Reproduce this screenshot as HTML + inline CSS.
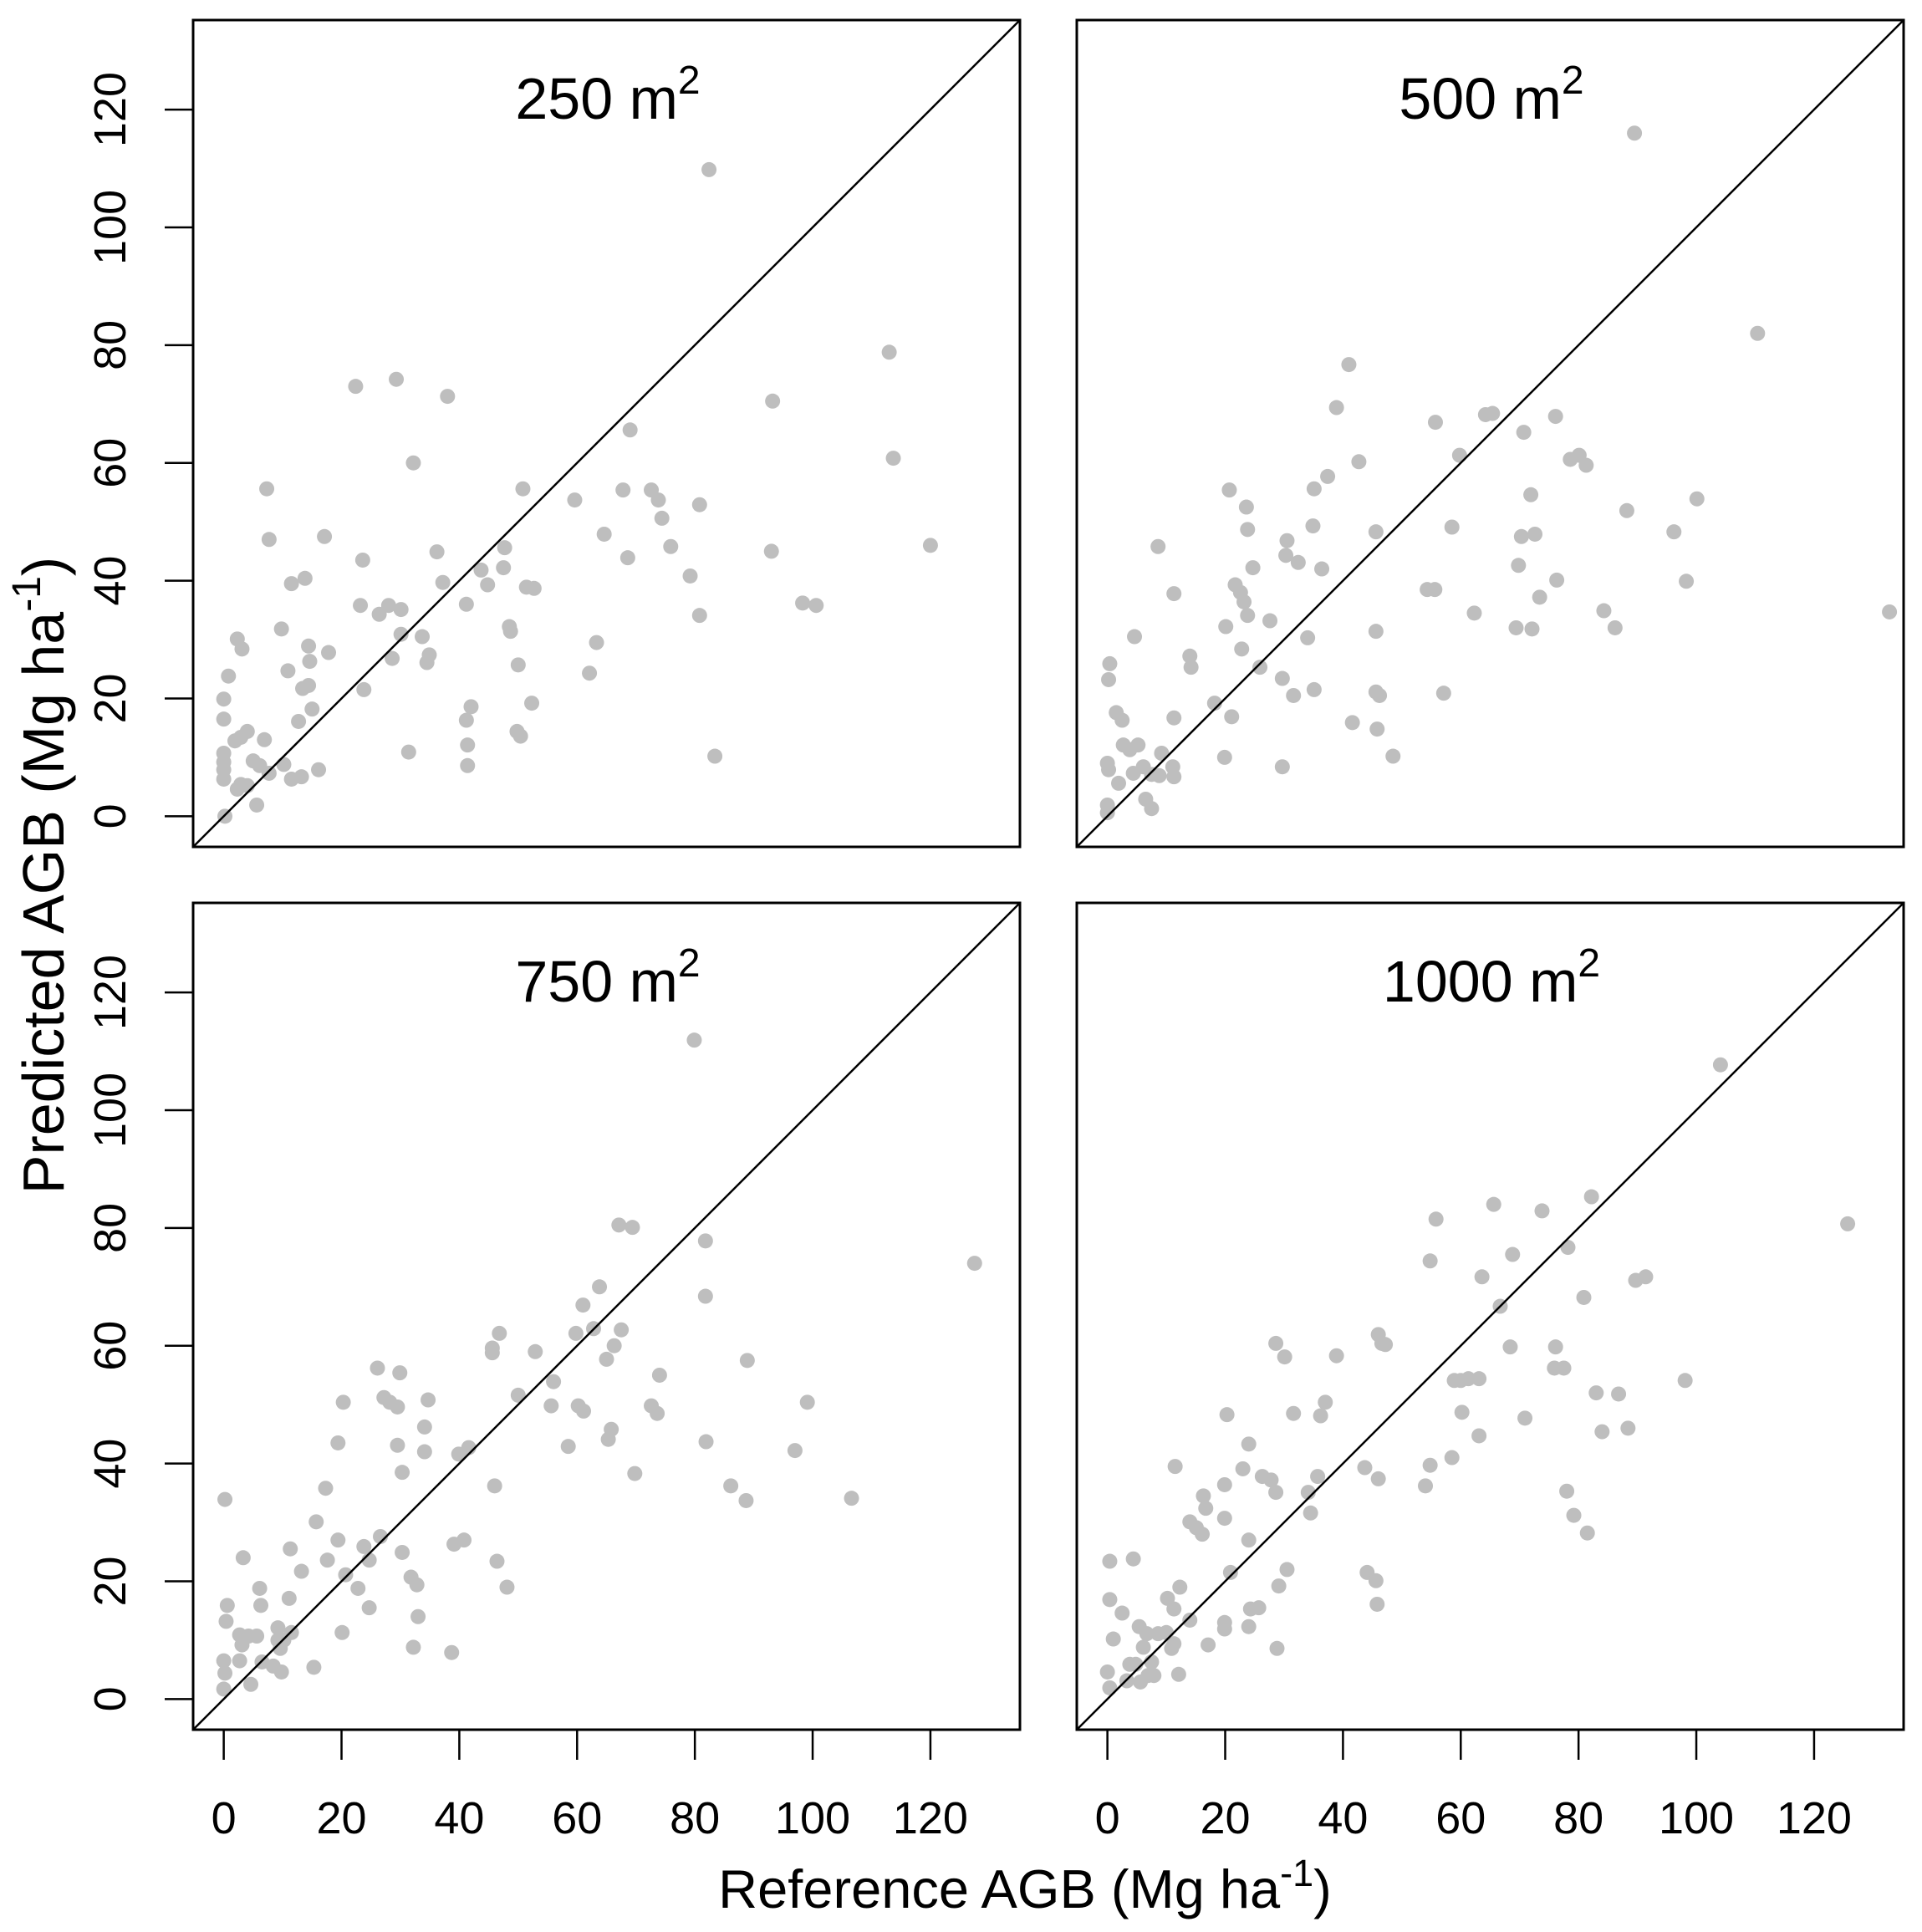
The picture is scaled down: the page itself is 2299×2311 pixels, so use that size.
<!DOCTYPE html>
<html><head><meta charset="utf-8"><style>
html,body{margin:0;padding:0;background:#fff;}
svg{display:block;font-family:"Liberation Sans",sans-serif;}
</style></head><body>
<svg id="chart" width="2299" height="2311" viewBox="0 0 2299 2311" xmlns="http://www.w3.org/2000/svg">
<text x="1226" y="2282" font-size="65" text-anchor="middle">Reference AGB  (Mg ha<tspan dy="-26" font-size="45">-1</tspan><tspan dy="26">)</tspan></text>
<text transform="translate(76,1047) rotate(-90)" font-size="70" text-anchor="middle">Predicted AGB  (Mg ha<tspan dy="-28" font-size="48">-1</tspan><tspan dy="28">)</tspan></text>
</svg>
<script>
const panelTitles = ["250", "500", "750", "1000"];
const xTicks = [0, 20, 40, 60, 80, 100, 120];
const yTicks = [0, 20, 40, 60, 80, 100, 120];
const ref250 = [82.4,113,113.7,120,93.2,93,98.3,100.6,83.4,69,67.8,72.6,73.8,74.4,75.9,79.2,80.8,80.8,68.6,64.6,59.6,63.3,62.1,47.7,47.5,43.7,44.8,48.5,48.7,51.4,52.7,50.8,50,49.8,50.4,52.3,41.2,42,41.2,41.4,41.4,38,29.3,22.4,32.2,36.2,37.2,33.7,34.9,34.5,31.4,23.6,23.2,23.8,26.4,28,30.1,30.1,28.6,7.3,7.7,17.1,17.8,13.8,11.5,9.8,10.9,14.4,14.6,14.4,13.4,15,12.7,16.1,11.5,13.2,10.2,2.3,3.1,0.8,0,0,1.9,2.9,4,6.9,7.7,5,6.1,2.9,4,2.3,0,0,0,0,5.6,0.2];
const pred250 = [109.8,78.8,60.8,46,70.5,45,36.2,35.8,10.2,65.6,55.4,55.4,53.7,50.6,45.8,40.8,52.9,34.1,43.9,47.9,53.7,29.5,24.3,45.6,42.2,41.8,39.3,32.2,31.4,38.9,38.7,55.6,25.7,14.4,13.6,19.2,36,18.6,16.3,12.1,8.6,71.3,74.2,73,60,44.9,39.7,30.5,27.4,26.1,10.9,43.5,35.8,21.5,34.3,35.8,35.1,30.9,26.8,55.6,47,47.5,27.8,40.4,39.5,31.8,24.7,28.9,26.3,22.2,21.7,18.2,16.1,7.9,6.3,6.7,8.8,30.1,28.4,23.8,19.9,16.5,12.8,13.4,14.4,13,7.3,9.4,8.6,5.4,5.2,4.6,10.7,9.2,7.9,6.3,1.9,0];
const ref500 = [89.5,110.4,132.8,100.1,96.2,98.3,88.2,84.3,86.2,78.6,80.1,81.3,76.1,76.3,73.4,72.6,71.9,70.7,70.3,69.8,69.4,72.1,62.3,64.2,65.4,59.8,58.5,55.7,57.1,54.3,55.6,48.5,45.6,45.6,45.6,46.2,45.8,41.6,42.7,41,38.9,37.4,35.1,34.9,36.4,35.1,34,32.4,31.6,30.5,30.3,29.7,29.7,27.6,25.9,24.7,23.6,23.8,23.2,23.8,22.8,21.7,22.6,20.7,21.1,20.1,19.9,18.2,14,14.2,11.3,11.3,8.6,4.6,0.4,0.2,1.5,2.5,2.7,3.8,5.2,1.9,4.4,6.1,7.5,9.2,8.8,11.1,11.3,6.5,7.5,0,0.2,0,0];
const pred500 = [116,82,34.7,53.9,48.3,39.9,51.9,34.9,32,60.6,61.3,59.6,67.9,40.1,37.2,47.9,54.6,65.2,47.5,42.6,32,31.8,34.5,68.2,68.4,61.3,49.1,66.9,20.9,38.5,38.5,10.2,48.3,31.4,21.1,20.5,14.8,15.9,60.2,76.7,69.4,57.7,55.6,49.3,42,21.5,30.3,43.1,20.5,46.8,44.3,23.4,8.4,33.2,25.3,42.2,52.5,48.7,36.4,34.1,28.4,39.3,38,55.4,16.9,32.2,10,19.2,27.2,25.3,16.7,37.8,45.8,30.5,25.9,23.2,17.6,16.3,12.1,11.3,12.1,5.6,7.3,8.4,7.1,10.7,6.9,8.4,6.7,2.9,1.3,9,7.9,1.9,0.6];
const ref750 = [79.9,127.5,67.1,69.4,81.8,81.8,63.8,61,62.8,59.8,67.5,66.3,65,88.9,74,99.1,72.6,73.6,60.2,61.1,56,55.6,58.5,65.8,65.3,81.9,97,69.8,86.1,88.7,106.6,52.9,50,46.8,45.6,45.6,41.6,39.9,46,46.4,48.1,40.8,39.1,38.7,34.7,34.1,34.1,32.8,31.8,33,32.2,26.1,29.9,27.2,28.2,29.5,29.5,30.3,30.3,20.3,19.4,17.3,15.7,19.4,20.7,20.1,23.8,24.7,22.8,24.7,26.6,17.6,13.2,11.3,11.1,6.1,6.3,3.3,0.2,0.6,0.4,2.7,4.2,5.6,3.1,9.2,10.2,9.2,11.5,9.6,2.7,6.5,8.4,9.8,15.3,4.6,0,0.2,0];
const pred750 = [111.9,74,80.5,80.1,77.8,68.4,70,66.9,62.9,62.1,62.7,60,57.7,57.5,55,50.4,49.8,48.5,49.8,48.9,53.9,49.8,42.9,45.8,44.1,43.7,42.2,38.3,36.2,33.7,34.1,59,51.6,62.1,59.6,58.8,42.7,41.6,36.2,23.4,19,27,26.3,7.9,50.8,46.2,42,19.4,20.7,14,8.8,56.2,55.4,51.2,50.4,49.6,43.1,38.5,24.9,50.4,43.5,35.8,30.1,27,21.1,11.3,25.9,23.6,18.8,15.5,27.6,23.6,21.7,25.5,17.1,18.8,15.9,24,33.9,15.9,13.2,10.9,10.7,10.7,9.2,12.1,10,10,11.3,8.6,6.5,6.3,5.6,4.6,5.4,2.5,6.5,4.4,1.7];
const ref1000 = [104.1,125.7,82.2,65.6,55.8,73.8,68.8,78.2,54.8,63.6,89.7,91.4,80.9,66.7,68.4,76.1,75.9,77.5,60,61.3,63.1,58.9,60.2,63.1,58.5,54.8,54,70.9,83,86.8,88.4,84,98.1,78,79.2,81.5,46,46.6,47.2,38.9,37,36.2,31.6,28.6,30.1,43.7,46,35.7,34.1,34.5,44.1,45.6,45.8,30.5,29.1,28.8,26.3,27.8,28.6,24,23,20.3,19.9,24,20.9,25.7,24.3,24,19.9,19.9,17.1,11.5,16.3,16.7,14,15.1,16.1,19.9,12.3,10.2,11.3,14,10,8.6,11.3,10.9,12.1,4.4,0.4,0.4,2.5,1,5.4,6.7,6.1,3.8,4.8,3.3,5.6,6.9,7.9,7.5,0,0.4];
const pred1000 = [107.7,80.7,85.3,84,81.5,82.9,75.5,76.7,74.4,71.7,71.1,71.7,68.2,66.7,59.8,59.8,56.2,56.2,54.1,54.4,54.4,54.1,48.7,44.7,41,39.7,36.2,47.7,52,51.8,46,45.4,54.1,35.3,31.2,28.2,61.9,60.4,60.2,58.3,50.4,48.1,48.5,60.4,58.1,39.3,37.4,37.8,35.1,31.6,21.5,20.1,16.1,22,19.2,8.6,37.8,37.2,35.1,43.3,39.1,48.3,36.4,27,21.5,15.5,15.3,12.3,13,11.9,9.2,39.5,34.5,32.4,30.1,29.1,28,30.7,19,17.1,15.3,13.4,11.3,11.1,9.4,8.6,4.2,23.8,23.4,16.9,14.6,10.2,12.3,11.1,8.8,5.9,5.9,3.1,2.9,4,4,6.3,4.6,1.9];
const refSeries = [ref250, ref500, ref750, ref1000];
const predSeries = [pred250, pred500, pred750, pred1000];

const NS = "http://www.w3.org/2000/svg";
const svg = document.getElementById("chart");
const XMIN = -5.2, XMAX = 135.2;
const boxes = [[231,24],[1288,24],[231,1080],[1288,1080]];
const W = 989, H = 989;
function mk(tag, attrs, parent) {
  const e = document.createElementNS(NS, tag);
  for (const k in attrs) e.setAttribute(k, attrs[k]);
  (parent || svg).appendChild(e);
  return e;
}
for (let p = 0; p < 4; p++) {
  const [bx, by] = boxes[p];
  const sx = v => bx + (v - XMIN) / (XMAX - XMIN) * W;
  const sy = v => by + H - (v - XMIN) / (XMAX - XMIN) * H;
  const g = mk("g", {});
  
  
  const refs = refSeries[p], preds = predSeries[p];
  for (let i = 0; i < refs.length; i++) {
    const c = mk("circle", {cx: sx(refs[i]), cy: sy(preds[i]), r: 9, fill: "#bebebe"}, g);
    
    
  }
  const l = mk("line", {x1: sx(XMIN), y1: sy(XMIN), x2: sx(XMAX), y2: sy(XMAX), stroke: "#000", "stroke-width": 2.5}, g);
  
  
  const r = mk("rect", {x: bx, y: by, width: W, height: H, fill: "none", stroke: "#000", "stroke-width": 3}, g);
  
  
  const t = mk("text", {x: bx + 496, y: by + 118, "font-size": 70, "text-anchor": "middle"}, g);
  
  
  t.innerHTML = panelTitles[p] + ' m<tspan dy="-30" font-size="48">2</tspan>';
  if (p % 2 === 0) {
    yTicks.forEach(v => {
      const tk = mk("line", {x1: bx - 34, x2: bx, y1: sy(v), y2: sy(v), stroke: "#000", "stroke-width": 2.5}, g);
      
      
      const tl = mk("text", {transform: `translate(${bx - 81},${sy(v)}) rotate(-90)`, "font-size": 54, "text-anchor": "middle"}, g);
      
      
      tl.textContent = v;
    });
  }
  if (p >= 2) {
    xTicks.forEach(v => {
      const tk = mk("line", {x1: sx(v), x2: sx(v), y1: by + H, y2: by + H + 36, stroke: "#000", "stroke-width": 2.5}, g);
      
      
      const tl = mk("text", {x: sx(v), y: by + H + 124, "font-size": 54, "text-anchor": "middle"}, g);
      
      
      tl.textContent = v;
    });
  }
}
</script>
</body></html>
